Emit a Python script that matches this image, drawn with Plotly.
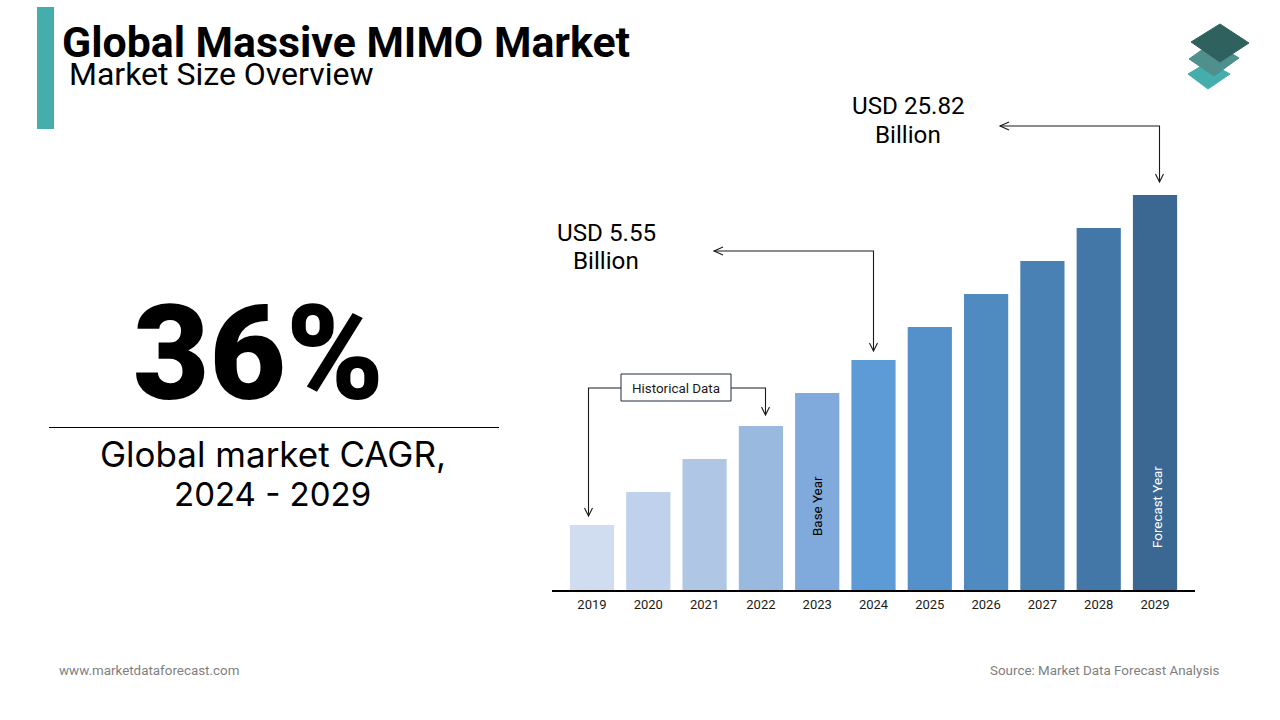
import plotly.graph_objects as go

W, H = 1280, 720
years = ["2019","2020","2021","2022","2023","2024","2025","2026","2027","2028","2029"]
bar_heights = [65, 98, 131, 164, 197, 230, 263, 296, 329, 362, 395]
bar_colors = ["#D0DDF0","#BFD1EB","#AFC6E4","#99B9DF","#7FAADB","#5C9BD6","#5491CB","#4F8AC0","#4A81B5","#4377A8","#3A6893"]

def px(x): return x / W
def py(y): return 1 - y / H

fig = go.Figure(go.Bar(x=years, y=bar_heights, marker=dict(color=bar_colors, line=dict(width=0)),
                       width=0.785, hoverinfo="skip"))

annotations = []
def text(x, y, s, size, color="#000000", weight=400, family="Roboto", anchor="center", angle=0):
    annotations.append(dict(x=px(x), y=py(y), xref="paper", yref="paper", text=s, showarrow=False,
                            xanchor=anchor, yanchor="middle", textangle=angle, borderpad=0, borderwidth=0,
                            font=dict(family=family, size=size, color=color, weight=weight)))

text(62, 42, "Global Massive MIMO Market", 42.8, weight=700, anchor="left")
text(69, 74, "Market Size Overview", 32, anchor="left")
text(258, 354, "36%", 132, weight=900)
text(273, 454, "Global market CAGR,", 35, family="Inter")
text(272, 494, "2024 - 2029", 33, family="Inter")
text(908.5, 106, "USD 25.82", 24.2)
text(908, 135, "Billion", 24.2)
text(606.5, 233, "USD 5.55", 24.2)
text(606, 261, "Billion", 24.2)
text(676, 388, "Historical Data", 13.4, color="#1a1a1a")
text(818, 506, "Base Year", 13.4, angle=-90)
text(1157, 507, "Forecast Year", 13.4, color="#FFFFFF", angle=-90)
text(59, 670, "www.marketdataforecast.com", 13.4, color="#7f7f7f", anchor="left")
text(1220, 670, "Source: Market Data Forecast Analysis", 13.4, color="#7f7f7f", anchor="right")

shapes = []
def rect(x0, y0, x1, y1, fill, line=None, lw=0):
    shapes.append(dict(type="rect", xref="paper", yref="paper", x0=px(x0), x1=px(x1), y0=py(y0), y1=py(y1),
                       fillcolor=fill, line=dict(color=line or fill, width=lw)))
def poly(points, fill=None, color="#000000", lw=1, close=False):
    d = "M" + " L".join(f"{px(a):.5f},{py(b):.5f}" for a, b in points) + (" Z" if close else "")
    shapes.append(dict(type="path", xref="paper", yref="paper", path=d,
                       fillcolor=fill or "rgba(0,0,0,0)", line=dict(color=color, width=lw)))
def arrow(points):
    poly(points, color="#1a1a1a", lw=1.1)
    xb, yb = points[-1]
    poly([(xb-4, yb-8), (xb, yb), (xb+4, yb-8)], color="#1a1a1a", lw=1.1)
def left_head(xb, yb):
    poly([(xb+9, yb-4), (xb, yb), (xb+9, yb+4)], color="#1a1a1a", lw=1.1)

rect(37, 7, 54, 129, "#45AEAD")
rect(49, 427, 499, 428, "#000000")
arrow([(1000, 126), (1159.5, 126), (1159.5, 182)])
left_head(1000, 126)
arrow([(714, 251), (873.5, 251), (873.5, 351)])
left_head(714, 251)
arrow([(621, 388), (588.5, 388), (588.5, 516)])
arrow([(731, 388), (765.5, 388), (765.5, 415)])
rect(621, 374, 731, 401, "#FFFFFF", "#1F2D3D", 1)

# logo
poly([(1188, 74), (1208, 62), (1230, 74), (1208, 89)], fill="#45AEAD", color="#45AEAD", close=True)
poly([(1189, 59), (1213, 42), (1239, 58), (1214, 76)], fill="#4F8F8C", color="#4F8F8C", close=True)
poly([(1191, 42), (1220, 24), (1249, 43), (1220, 62)], fill="#2F625E", color="#2F625E", close=True)

fig.update_layout(
    width=W, height=H, autosize=False, margin=dict(l=0, r=0, t=0, b=0),
    paper_bgcolor="#FFFFFF", plot_bgcolor="#FFFFFF", showlegend=False,
    annotations=annotations, shapes=shapes,
    xaxis=dict(domain=[px(552), px(1195)], type="category", categoryorder="array", categoryarray=years,
               range=[-0.71, 10.71], showgrid=False, zeroline=False, showline=True, linecolor="#000000",
               linewidth=2, ticks="", ticklabelstandoff=1, tickfont=dict(family="Roboto", size=13, color="#1a1a1a")),
    yaxis=dict(domain=[py(590), py(150)], range=[0, 440], visible=False),
    font=dict(family="Roboto"),
)
fig.write_html("out.html", config={"displayModeBar": False},
               post_script="document.body.style.margin='0';")
